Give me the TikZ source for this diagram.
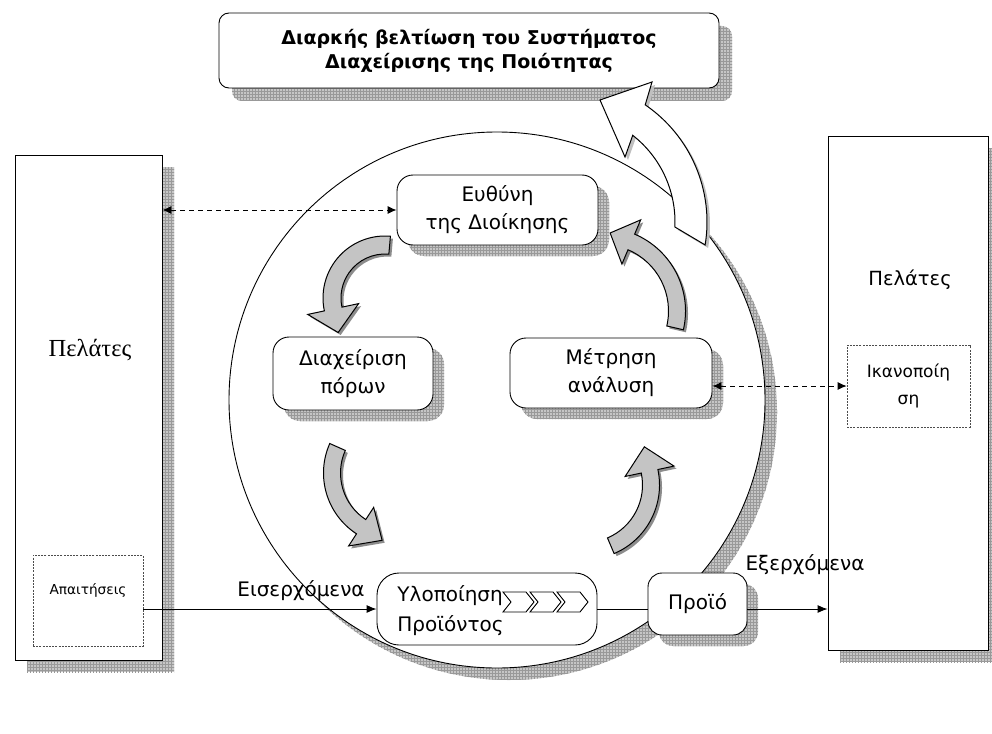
\documentclass[tikz,border=0pt]{standalone}
\usepackage{fontspec}
\setmainfont{DejaVu Sans}
\newfontfamily\serifgr{Liberation Serif}
\usetikzlibrary{arrows.meta,calc,patterns}
\newcommand{\cArrow}[8]{%
  \pgfmathsetmacro\cRi{#2-#5/2}%
  \pgfmathsetmacro\cRo{#2+#5/2}%
  \pgfmathsetmacro\cHi{#2-#6}%
  \pgfmathsetmacro\cHo{#2+#6}%
  \pgfmathsetmacro\cTd{(#4>#3)?(#4+90):(#4-90)}%
  \draw[#8] ($#1+(#3:\cRi)$) arc[start angle=#3,end angle=#4,radius=\cRi]
    -- ($#1+(#4:\cHi)$) -- ($#1+(#4:#2)+(\cTd:#7)$) -- ($#1+(#4:\cHo)$)
    -- ($#1+(#4:\cRo)$) arc[start angle=#4,end angle=#3,radius=\cRo] -- cycle;}
\begin{document}
\begin{tikzpicture}[x=1pt,y=-1pt,line width=0.9pt,
  gsh/.style={preaction={draw=none,fill=gray!45,transform canvas={shift={(#1pt,-#1pt)}}},
     preaction={draw=none,pattern=grid,pattern color=gray!80,transform canvas={shift={(#1pt,-#1pt)}}}},
  gsh/.default=11,
  rbox/.style={draw,fill=white,rounded corners=16pt,align=center,inner sep=0pt,font=\fontsize{20}{28}\selectfont},
  dbox/.style={draw=black!70,dash pattern=on 2pt off 1.2pt,line width=0.7pt,fill=white,inner sep=0pt,align=center},
  lbl/.style={font=\fontsize{20}{24}\selectfont,inner sep=0pt},
  tip/.style={-{Latex[length=10pt,width=8pt]}},
  dtip/.style={{Latex[length=9pt,width=8pt]}-{Latex[length=9pt,width=8pt]},dash pattern=on 5pt off 4pt},
  garrow/.style={draw=black,line width=1pt,fill=black!23,preaction={draw=none,fill=black!45,transform canvas={shift={(2.5pt,-2.5pt)}}}},
  warrow/.style={draw=black,line width=1pt,fill=white,preaction={draw=none,fill=black!25,transform canvas={shift={(3pt,-3pt)}}}},
  chev/.style={draw=black,line width=0.9pt,fill=white}
]
\useasboundingbox (0,0) rectangle (992,733);
\fill[white] (0,0) rectangle (992,733);

% top box
\node[rbox,rounded corners=10pt,gsh=13,minimum width=500,minimum height=75,
  font=\bfseries\fontsize{19}{24}\selectfont] (T) at (469,50.5)
  {Διαρκής βελτίωση του Συστήματος\\Διαχείρισης της Ποιότητας};

% customers left
\node[draw,fill=white,gsh=12,minimum width=147,minimum height=505,inner sep=0pt] (L) at (88.5,407.5) {};
\node[font=\serifgr\fontsize{24.5}{28}\selectfont,inner sep=0pt] (Lt) at (90,350) {Πελάτες};
\node[dbox,minimum width=110,minimum height=91] (A) at (88,600.5) {};
\node[font=\fontsize{13.7}{16}\selectfont,inner sep=0pt] (At) at (88,590) {Απαιτήσεις};

% customers right
\node[draw,fill=white,gsh=12,minimum width=160,minimum height=514,inner sep=0pt] (R) at (908,393) {};
\node[lbl,font=\fontsize{19.5}{24}\selectfont] (Rt) at (910,280) {Πελάτες};
\node[dbox,minimum width=123,minimum height=82,font=\fontsize{17}{27}\selectfont] (I) at (908.5,386) {Ικανοποίη\\ση};

% circle
\node[circle,draw,fill=white,gsh=12,minimum size=536,inner sep=0pt] (cyc) at (497,400) {};

% white improvement arrow
\coordinate (wc) at (565,222);
\draw[warrow] ($(wc)+(2.6:110)$) arc[start angle=2.6,end angle=-52,radius=110]
  -- (625,157) -- (600,100) -- (652,82) -- ($(wc)+(-55.6:142)$)
  arc[start angle=-55.6,end angle=9.3,radius=142] -- cycle;

% gray cycle arrows
\cArrow{(385,298)}{53}{-85}{-192}{18}{26}{24}{garrow}
\cArrow{(396,473)}{64}{-156}{-237}{17}{23}{25}{garrow}
\cArrow{(585,485)}{66}{67}{-12}{17}{25}{25}{garrow}
\cArrow{(602,311)}{75}{13}{-67}{17}{24}{23}{garrow}

% process boxes
\node[rbox,gsh,minimum width=201,minimum height=70] (E) at (497.5,210) {Ευθύνη\\της Διοίκησης};
\node[rbox,gsh,minimum width=160,minimum height=73] (D) at (353,373.5) {Διαχείριση\\πόρων};
\node[rbox,gsh,minimum width=202,minimum height=70] (M) at (611,373) {Μέτρηση\\ανάλυση};
\node[rbox,rounded corners=22pt,minimum width=220,minimum height=72] (Y) at (487,609) {};
\node[lbl,align=left,anchor=west,font=\fontsize{20}{30}\selectfont] (Yt) at (397,611) {Υλοποίηση\\Προϊόντος};
\node[rbox,gsh,rounded corners=14pt,minimum width=99,minimum height=62] (P) at (697.5,604) {Προϊό};

% chevrons
\foreach \cx in {503,530,557}{
  \draw[chev] (\cx,592) -- (\cx+23,592) -- (\cx+31,602) -- (\cx+23,612) -- (\cx,612) -- (\cx+8,602) -- cycle;
}

% flow connectors
\draw[tip] (A.east |- Y.west) -- (Y.west);
\draw (Y.east) -- (Y.east -| P.west);
\draw[tip] (P.east |- Y.east) -- (Y.east -| R.west);
\node[lbl] (ein) at (301,591) {Εισερχόμενα};
\node[lbl] (eks) at (805,565) {Εξερχόμενα};

% dashed information links
\draw[dtip] (L.east |- E.west) -- (E.west);
\draw[dtip] (M.east |- I.west) -- (I.west);
\end{tikzpicture}
\end{document}
